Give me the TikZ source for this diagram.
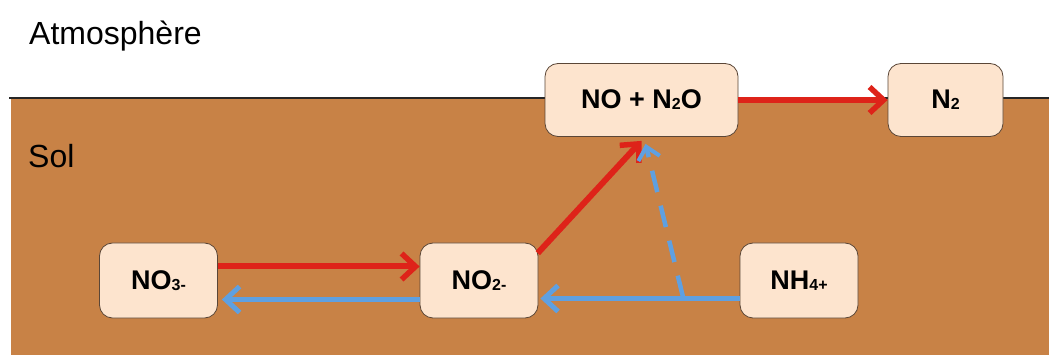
\documentclass[tikz,border=0pt]{standalone}
\usepackage{fontspec}
\setmainfont{Liberation Sans}
\usetikzlibrary{arrows.meta,calc}
\definecolor{soil}{RGB}{200,130,70}
\definecolor{boxfill}{RGB}{253,228,206}
\definecolor{boxline}{RGB}{90,70,55}
\definecolor{redarr}{RGB}{222,35,25}
\definecolor{bluearr}{RGB}{95,160,225}
\tikzset{
  chem/.style={draw=boxline, line width=0.8pt, fill=boxfill, rounded corners=13pt,
    font=\fontsize{27}{27}\selectfont\bfseries, inner sep=0pt, minimum height=73pt},
  redflow/.style={draw=redarr, line width=6pt, -{Straight Barb[length=14pt,width=26pt,line width=5.5pt]}},
  blueflow/.style={draw=bluearr, line width=5.5pt, -{Straight Barb[length=14pt,width=26pt,line width=5pt]}},
  lab/.style={font=\fontsize{32}{32}\selectfont, anchor=west, inner sep=0pt}
}
\newcommand{\sbs}[1]{\raisebox{-1pt}{\fontsize{16}{16}\selectfont #1}}
\begin{document}
\begin{tikzpicture}[x=1pt,y=-1pt]
\useasboundingbox (0,0) rectangle (1049,355);
\fill[white] (0,0) rectangle (1049,355);
\fill[soil] (11,98) rectangle (1049,355);
\draw[black!85, line width=2pt] (9,98) -- (1049,98);
\node[lab] (atm) at (29,36) {Atmosphère};
\node[lab] (sol) at (28,156) {Sol};
\node[chem, minimum width=193pt] (non2o) at (641.5,100) {NO + N\sbs{2}O};
\node[chem, minimum width=115pt] (n2) at (945.5,100) {N\sbs{2}};
\node[chem, minimum width=118pt, minimum height=75pt] (no3) at (158.5,280.5) {NO\sbs{3-}};
\node[chem, minimum width=118pt, minimum height=75pt] (no2) at (479,280.5) {NO\sbs{2-}};
\node[chem, minimum width=118pt, minimum height=75pt] (nh4) at (799,280.5) {NH\sbs{4+}};
\coordinate (j) at (683,297);
\draw[redflow] (non2o.east) -- (n2.west);
\draw[redflow] ($(no3.east)+(0,-14)$) -- ($(no2.west)+(0,-14)$);
\draw[blueflow] ($(no2.west)+(0,19)$) -- ($(no3.east)+(4,19)$);
\draw[blueflow] ($(nh4.west)+(0,18)$) -- ($(no2.east)+(2,18)$);
\draw[redflow, shorten <=2pt] ($(no2.north east)+(-2,12)$) -- ($(non2o.south)+(0,4)$);
\draw[draw=bluearr, line width=4.5pt, dash pattern=on 22pt off 14pt,
  -{Straight Barb[length=12pt,width=22pt,line width=4pt]}] (j) -- ($(non2o.south)+(4,7)$);
\end{tikzpicture}
\end{document}
